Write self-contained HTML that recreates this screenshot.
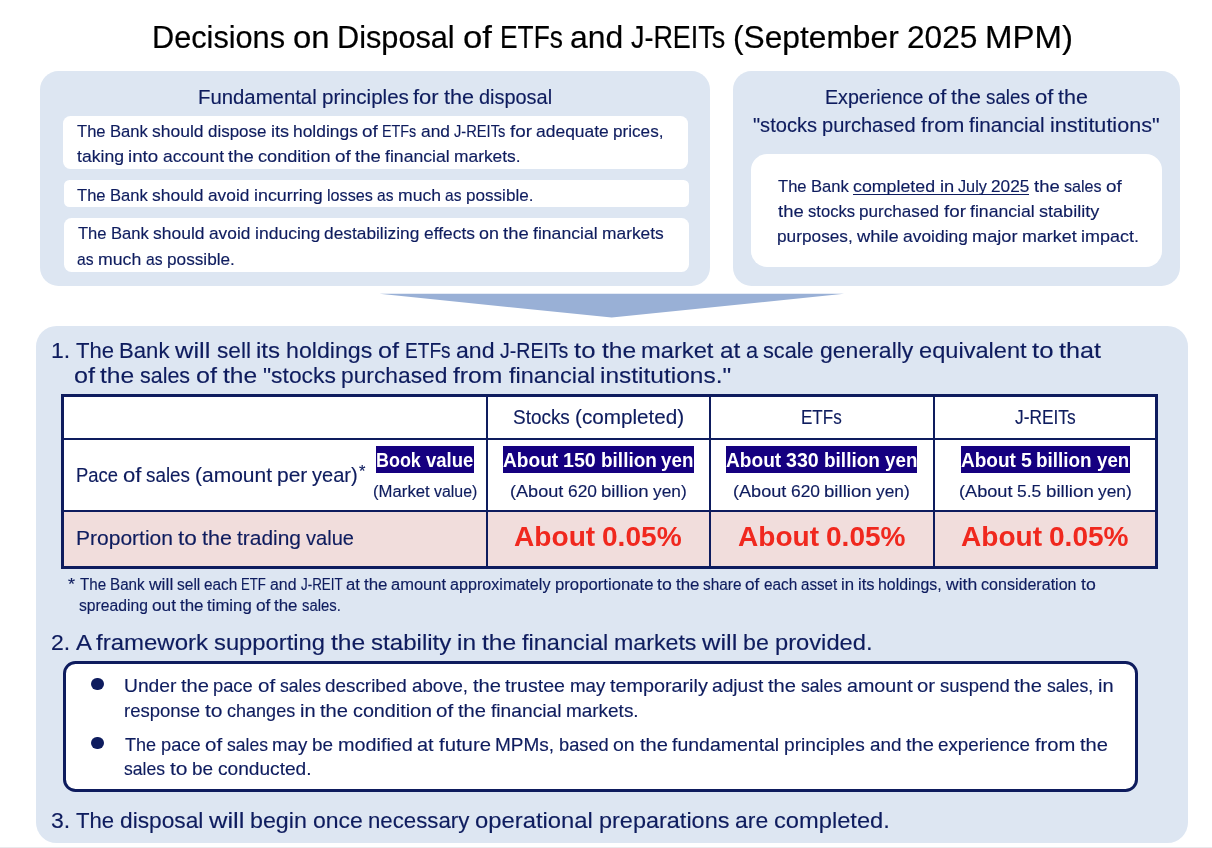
<!DOCTYPE html>
<html lang="en">
<head>
<meta charset="utf-8">
<title>Decisions on Disposal of ETFs and J-REITs (September 2025 MPM)</title>
<style>
html,body{margin:0;padding:0;background:#fff;}
body{width:1212px;height:848px;position:relative;overflow:hidden;font-family:"Liberation Sans",sans-serif;color:#0e1c5e;}
h1,h2,h3,p,ul,li,section,header{margin:0;padding:0;font-weight:normal;list-style:none;}
.panel{position:absolute;background:#dde6f2;}
.wb{position:absolute;background:#fff;}
.t{position:absolute;left:0;white-space:nowrap;line-height:1;-webkit-text-stroke:0.15px currentColor;}
.t span{position:absolute;top:0;transform-origin:0 0;}
.b{font-weight:bold;-webkit-text-stroke:0;}
.w{color:#fff;}
.r{color:#f0281e;}
.hl{position:absolute;background:#150080;}
.ln{position:absolute;background:#0e1c5e;}
.dot{position:absolute;width:12.3px;height:12.3px;border-radius:50%;background:#0e1c5e;}
</style>
</head>
<body>
<h1 class="t" id="title" style="top:21.59px;font-size:31.2px;color:#000;-webkit-text-stroke:0.2px #000"><span style="left:152.0px;transform:scaleX(0.984)">Decisions</span> <span style="left:292.8px;transform:scaleX(1.054)">on</span> <span style="left:337.2px;transform:scaleX(0.984)">Disposal</span> <span style="left:462.8px;transform:scaleX(1.111)">of</span> <span style="left:499.5px;transform:scaleX(0.844)">ETFs</span> <span style="left:570.2px;transform:scaleX(1.021)">and</span> <span style="left:631.2px;transform:scaleX(0.863)">J-REITs</span> <span style="left:733.2px;transform:scaleX(1.017)">(September</span> <span style="left:906.9px;transform:scaleX(1.015)">2025</span> <span style="left:985.1px;transform:scaleX(1.057)">MPM)</span></h1>
<section>
<div class="panel" style="left:40px;top:71px;width:670px;height:214.8px;border-radius:18.5px"></div>
<h2 class="t" id="hl" style="top:88.15px;font-size:19.9px"><span style="left:197.8px;transform:scaleX(1.022)">Fundamental</span> <span style="left:321.5px;transform:scaleX(1.034)">principles</span> <span style="left:413.4px;transform:scaleX(1.107)">for</span> <span style="left:444.1px;transform:scaleX(1.088)">the</span> <span style="left:479.2px;transform:scaleX(1.001)">disposal</span></h2>
<div class="wb" style="left:63.2px;top:115.9px;width:625px;height:53.6px;border-radius:7.5px"></div>
<p class="t" id="l1" style="top:122.61px;font-size:17.0px"><span style="left:77.1px;transform:scaleX(0.976)">The</span> <span style="left:110.0px;transform:scaleX(0.979)">Bank</span> <span style="left:152.2px;transform:scaleX(1.030)">should</span> <span style="left:208.1px;transform:scaleX(0.998)">dispose</span> <span style="left:270.8px;transform:scaleX(1.064)">its</span> <span style="left:293.2px;transform:scaleX(1.024)">holdings</span> <span style="left:362.3px;transform:scaleX(1.112)">of</span> <span style="left:382.4px;transform:scaleX(0.844)">ETFs</span> <span style="left:420.9px;transform:scaleX(1.021)">and</span> <span style="left:454.2px;transform:scaleX(0.863)">J-REITs</span> <span style="left:509.8px;transform:scaleX(1.108)">for</span> <span style="left:536.1px;transform:scaleX(1.027)">adequate</span> <span style="left:613.2px;transform:scaleX(1.008)">prices,</span></p>
<p class="t" id="l2" style="top:147.61px;font-size:17.0px"><span style="left:77.0px;transform:scaleX(1.036)">taking</span> <span style="left:128.3px;transform:scaleX(1.104)">into</span> <span style="left:162.8px;transform:scaleX(1.024)">account</span> <span style="left:228.1px;transform:scaleX(1.087)">the</span> <span style="left:258.0px;transform:scaleX(1.066)">condition</span> <span style="left:334.9px;transform:scaleX(1.111)">of</span> <span style="left:354.9px;transform:scaleX(1.087)">the</span> <span style="left:384.9px;transform:scaleX(1.038)">financial</span> <span style="left:453.9px;transform:scaleX(1.022)">markets.</span></p>
<div class="wb" style="left:63.5px;top:180.2px;width:625.5px;height:26.8px;border-radius:5.5px"></div>
<p class="t" id="l3" style="top:186.61px;font-size:17.0px"><span style="left:77.1px;transform:scaleX(0.976)">The</span> <span style="left:110.0px;transform:scaleX(0.978)">Bank</span> <span style="left:152.1px;transform:scaleX(1.029)">should</span> <span style="left:208.0px;transform:scaleX(1.018)">avoid</span> <span style="left:253.6px;transform:scaleX(1.052)">incurring</span> <span style="left:326.5px;transform:scaleX(0.953)">losses</span> <span style="left:376.7px;transform:scaleX(0.916)">as</span> <span style="left:397.5px;transform:scaleX(1.034)">much</span> <span style="left:444.7px;transform:scaleX(0.916)">as</span> <span style="left:465.5px;transform:scaleX(1.006)">possible.</span></p>
<div class="wb" style="left:63.7px;top:217.9px;width:625.4px;height:54px;border-radius:7.5px"></div>
<p class="t" id="l4" style="top:224.61px;font-size:17.0px"><span style="left:78.0px;transform:scaleX(0.975)">The</span> <span style="left:110.8px;transform:scaleX(0.978)">Bank</span> <span style="left:153.0px;transform:scaleX(1.028)">should</span> <span style="left:208.8px;transform:scaleX(1.018)">avoid</span> <span style="left:254.5px;transform:scaleX(1.032)">inducing</span> <span style="left:324.1px;transform:scaleX(1.019)">destabilizing</span> <span style="left:423.7px;transform:scaleX(1.024)">effects</span> <span style="left:478.9px;transform:scaleX(1.053)">on</span> <span style="left:503.1px;transform:scaleX(1.087)">the</span> <span style="left:533.1px;transform:scaleX(1.037)">financial</span> <span style="left:602.1px;transform:scaleX(1.022)">markets</span></p>
<p class="t" id="l5" style="top:250.61px;font-size:17.0px"><span style="left:77.4px;transform:scaleX(0.922)">as</span> <span style="left:98.3px;transform:scaleX(1.040)">much</span> <span style="left:145.8px;transform:scaleX(0.922)">as</span> <span style="left:166.7px;transform:scaleX(1.012)">possible.</span></p>
</section>
<section>
<div class="panel" style="left:732.8px;top:71px;width:447.3px;height:214.8px;border-radius:18.5px"></div>
<h2 class="t" id="hr1" style="top:88.15px;font-size:19.9px"><span style="left:824.6px;transform:scaleX(0.988)">Experience</span> <span style="left:927.9px;transform:scaleX(1.104)">of</span> <span style="left:951.2px;transform:scaleX(1.081)">the</span> <span style="left:986.1px;transform:scaleX(0.943)">sales</span> <span style="left:1034.9px;transform:scaleX(1.104)">of</span> <span style="left:1058.2px;transform:scaleX(1.081)">the</span></h2>
<h2 class="t" id="hr2" style="top:116.15px;font-size:19.9px"><span style="left:753.0px;transform:scaleX(1.009)">"stocks</span> <span style="left:822.0px;transform:scaleX(1.007)">purchased</span> <span style="left:920.5px;transform:scaleX(1.092)">from</span> <span style="left:969.0px;transform:scaleX(1.037)">financial</span> <span style="left:1049.7px;transform:scaleX(1.085)">institutions"</span></h2>
<div class="wb" style="left:751px;top:154px;width:411.2px;height:112.6px;border-radius:16px"></div>
<p class="t" id="r1" style="top:177.61px;font-size:17.0px"><span style="left:778.1px;transform:scaleX(0.976)">The</span> <span style="left:811.0px;transform:scaleX(0.978)">Bank</span> <span style="left:853.1px;transform:scaleX(1.046)">completed</span> <span style="left:939.5px;transform:scaleX(1.078)">in</span> <span style="left:958.0px;transform:scaleX(0.955)">July</span> <span style="left:991.2px;transform:scaleX(1.014)">2025</span> <span style="left:1033.8px;transform:scaleX(1.087)">the</span> <span style="left:1063.8px;transform:scaleX(0.948)">sales</span> <span style="left:1105.7px;transform:scaleX(1.111)">of</span></p>
<p class="t" id="r2" style="top:202.61px;font-size:17.0px"><span style="left:778.0px;transform:scaleX(1.087)">the</span> <span style="left:808.0px;transform:scaleX(0.978)">stocks</span> <span style="left:859.4px;transform:scaleX(1.007)">purchased</span> <span style="left:943.7px;transform:scaleX(1.106)">for</span> <span style="left:969.9px;transform:scaleX(1.038)">financial</span> <span style="left:1038.9px;transform:scaleX(1.063)">stability</span></p>
<p class="t" id="r3" style="top:227.61px;font-size:17.0px"><span style="left:777.0px;transform:scaleX(1.015)">purposes,</span> <span style="left:857.1px;transform:scaleX(1.079)">while</span> <span style="left:903.2px;transform:scaleX(1.025)">avoiding</span> <span style="left:972.4px;transform:scaleX(1.071)">major</span> <span style="left:1022.3px;transform:scaleX(1.053)">market</span> <span style="left:1081.3px;transform:scaleX(1.057)">impact.</span></p>
<div class="ln" style="left:853.1px;top:193.6px;width:176.4px;height:1.4px"></div>
</section>
<svg style="position:absolute;left:0;top:0" width="1212" height="848" viewBox="0 0 1212 848"><polygon points="379.5,293.7 844,293.7 611.7,317.6" fill="#99b0d6"/></svg>
<section>
<div class="panel" style="left:36px;top:325.8px;width:1152px;height:517px;border-radius:20.5px"></div>
<h3 class="t" id="s1a" style="top:338.78px;font-size:22.7px"><span style="left:50.6px;transform:scaleX(1.012)">1.</span> <span style="left:75.5px;transform:scaleX(0.974)">The</span> <span style="left:119.2px;transform:scaleX(0.976)">Bank</span> <span style="left:175.4px;transform:scaleX(1.123)">will</span> <span style="left:216.5px;transform:scaleX(0.998)">sell</span> <span style="left:256.2px;transform:scaleX(1.061)">its</span> <span style="left:286.0px;transform:scaleX(1.021)">holdings</span> <span style="left:378.0px;transform:scaleX(1.110)">of</span> <span style="left:404.7px;transform:scaleX(0.842)">ETFs</span> <span style="left:456.0px;transform:scaleX(1.019)">and</span> <span style="left:500.2px;transform:scaleX(0.861)">J-REITs</span> <span style="left:574.3px;transform:scaleX(1.135)">to</span> <span style="left:601.5px;transform:scaleX(1.085)">the</span> <span style="left:641.4px;transform:scaleX(1.045)">market</span> <span style="left:719.6px;transform:scaleX(1.072)">at</span> <span style="left:745.6px;transform:scaleX(0.957)">a</span> <span style="left:763.4px;transform:scaleX(0.957)">scale</span> <span style="left:819.8px;transform:scaleX(1.014)">generally</span> <span style="left:918.8px;transform:scaleX(1.041)">equivalent</span> <span style="left:1032.2px;transform:scaleX(1.136)">to</span> <span style="left:1059.4px;transform:scaleX(1.109)">that</span></h3>
<h3 class="t" id="s1b" style="top:363.78px;font-size:22.7px"><span style="left:73.8px;transform:scaleX(1.109)">of</span> <span style="left:100.4px;transform:scaleX(1.085)">the</span> <span style="left:140.3px;transform:scaleX(0.946)">sales</span> <span style="left:196.1px;transform:scaleX(1.108)">of</span> <span style="left:222.8px;transform:scaleX(1.084)">the</span> <span style="left:262.7px;transform:scaleX(1.007)">"stocks</span> <span style="left:341.3px;transform:scaleX(1.005)">purchased</span> <span style="left:453.4px;transform:scaleX(1.090)">from</span> <span style="left:508.6px;transform:scaleX(1.035)">financial</span> <span style="left:600.4px;transform:scaleX(1.079)">institutions."</span></h3>
<div class="wb" style="left:62.5px;top:395.5px;width:1095px;height:172px"></div>
<div style="position:absolute;left:63px;top:510.5px;width:1094px;height:57px;background:#f1dddc"></div>
<div class="ln" style="left:486.0px;top:396px;width:2px;height:171px"></div>
<div class="ln" style="left:709.4px;top:396px;width:2px;height:171px"></div>
<div class="ln" style="left:933.0px;top:396px;width:2px;height:171px"></div>
<div class="ln" style="left:63px;top:437.8px;width:1094px;height:1.9px"></div>
<div class="ln" style="left:63px;top:509.8px;width:1094px;height:1.9px"></div>
<div style="position:absolute;left:60.7px;top:394px;width:1091.1px;height:168.7px;border:3.6px solid #0e1c5e"></div>
<div class="t" id="th1" style="top:408.15px;font-size:19.9px"><span style="left:513.3px;transform:scaleX(0.952)">Stocks</span> <span style="left:575.1px;transform:scaleX(1.040)">(completed)</span></div>
<div class="t" id="th2" style="top:408.15px;font-size:19.9px"><span style="left:801.4px;transform:scaleX(0.856)">ETFs</span></div>
<div class="t" id="th3" style="top:408.15px;font-size:19.9px"><span style="left:1014.9px;transform:scaleX(0.871)">J-REITs</span></div>
<div class="t" id="pace" style="top:466.15px;font-size:19.9px"><span style="left:75.6px;transform:scaleX(0.924)">Pace</span> <span style="left:122.5px;transform:scaleX(1.110)">of</span> <span style="left:145.9px;transform:scaleX(0.947)">sales</span> <span style="left:194.9px;transform:scaleX(1.056)">(amount</span> <span style="left:277.0px;transform:scaleX(1.055)">per</span> <span style="left:312.3px;transform:scaleX(1.009)">year)</span></div>
<div class="t" id="ast" style="top:463.76px;font-size:16px"><span style="left:359.3px;transform:scaleX(1.034)">*</span></div>
<div class="hl" style="left:375.8px;top:446.3px;width:98.2px;height:26.7px"></div>
<div class="t b w" id="bv" style="top:450.66px;font-size:19.3px"><span style="left:376.4px;transform:scaleX(0.930)">Book</span> <span style="left:426.0px;transform:scaleX(0.961)">value</span></div>
<div class="t" id="mv" style="top:483.63px;font-size:15.8px"><span style="left:372.9px;transform:scaleX(1.059)">(Market</span> <span style="left:433.5px;transform:scaleX(1.007)">value)</span></div>
<div class="hl" style="left:502.7px;top:446.3px;width:191.3px;height:26.7px"></div>
<div class="t b w" id="a1" style="top:450.66px;font-size:19.3px"><span style="left:502.8px;transform:scaleX(0.991)">About</span> <span style="left:562.9px;transform:scaleX(1.017)">150</span> <span style="left:600.5px;transform:scaleX(0.984)">billion</span> <span style="left:661.2px;transform:scaleX(0.974)">yen</span></div>
<div class="t" id="m1" style="top:483.44px;font-size:17.2px"><span style="left:510.1px;transform:scaleX(1.053)">(About</span> <span style="left:567.7px;transform:scaleX(1.011)">620</span> <span style="left:601.0px;transform:scaleX(1.083)">billion</span> <span style="left:652.9px;transform:scaleX(1.008)">yen)</span></div>
<div class="hl" style="left:726px;top:446.3px;width:191.3px;height:26.7px"></div>
<div class="t b w" id="a2" style="top:450.66px;font-size:19.3px"><span style="left:726.1px;transform:scaleX(0.991)">About</span> <span style="left:786.2px;transform:scaleX(1.017)">330</span> <span style="left:823.8px;transform:scaleX(0.984)">billion</span> <span style="left:884.5px;transform:scaleX(0.974)">yen</span></div>
<div class="t" id="m2" style="top:483.44px;font-size:17.2px"><span style="left:733.4px;transform:scaleX(1.054)">(About</span> <span style="left:791.1px;transform:scaleX(1.013)">620</span> <span style="left:824.4px;transform:scaleX(1.084)">billion</span> <span style="left:876.4px;transform:scaleX(1.009)">yen)</span></div>
<div class="hl" style="left:960.7px;top:446.3px;width:169px;height:26.7px"></div>
<div class="t b w" id="a3" style="top:450.66px;font-size:19.3px"><span style="left:960.8px;transform:scaleX(0.987)">About</span> <span style="left:1020.6px;transform:scaleX(1.013)">5</span> <span style="left:1036.3px;transform:scaleX(0.980)">billion</span> <span style="left:1096.8px;transform:scaleX(0.969)">yen</span></div>
<div class="t" id="m3" style="top:483.44px;font-size:17.2px"><span style="left:959.3px;transform:scaleX(1.057)">(About</span> <span style="left:1017.1px;transform:scaleX(1.015)">5.5</span> <span style="left:1045.7px;transform:scaleX(1.087)">billion</span> <span style="left:1097.8px;transform:scaleX(1.012)">yen)</span></div>
<div class="t" id="p0" style="top:529.15px;font-size:19.9px"><span style="left:75.6px;transform:scaleX(1.057)">Proportion</span> <span style="left:177.7px;transform:scaleX(1.136)">to</span> <span style="left:201.5px;transform:scaleX(1.085)">the</span> <span style="left:236.5px;transform:scaleX(1.052)">trading</span> <span style="left:305.5px;transform:scaleX(1.008)">value</span></div>
<div class="t b r" id="p1" style="top:521.96px;font-size:28.4px"><span style="left:514.0px;transform:scaleX(0.990)">About</span> <span style="left:602.3px;transform:scaleX(0.989)">0.05%</span></div>
<div class="t b r" id="p2" style="top:521.96px;font-size:28.4px"><span style="left:737.7px;transform:scaleX(0.988)">About</span> <span style="left:825.9px;transform:scaleX(0.988)">0.05%</span></div>
<div class="t b r" id="p3" style="top:521.96px;font-size:28.4px"><span style="left:961.0px;transform:scaleX(0.988)">About</span> <span style="left:1049.2px;transform:scaleX(0.988)">0.05%</span></div>
<p class="t" id="f1" style="top:576.79px;font-size:15.6px"><span style="left:68.4px;transform:scaleX(1.150)">*</span> <span style="left:80.0px;transform:scaleX(0.972)">The</span> <span style="left:110.1px;transform:scaleX(0.975)">Bank</span> <span style="left:148.7px;transform:scaleX(1.121)">will</span> <span style="left:176.9px;transform:scaleX(0.996)">sell</span> <span style="left:204.1px;transform:scaleX(0.985)">each</span> <span style="left:241.3px;transform:scaleX(0.843)">ETF</span> <span style="left:270.1px;transform:scaleX(1.017)">and</span> <span style="left:300.5px;transform:scaleX(0.860)">J-REIT</span> <span style="left:345.8px;transform:scaleX(1.070)">at</span> <span style="left:363.7px;transform:scaleX(1.083)">the</span> <span style="left:391.1px;transform:scaleX(1.059)">amount</span> <span style="left:450.1px;transform:scaleX(1.035)">approximately</span> <span style="left:554.5px;transform:scaleX(1.071)">proportionate</span> <span style="left:656.8px;transform:scaleX(1.134)">to</span> <span style="left:675.5px;transform:scaleX(1.083)">the</span> <span style="left:702.9px;transform:scaleX(0.989)">share</span> <span style="left:745.4px;transform:scaleX(1.107)">of</span> <span style="left:763.7px;transform:scaleX(0.985)">each</span> <span style="left:801.0px;transform:scaleX(0.970)">asset</span> <span style="left:841.0px;transform:scaleX(1.076)">in</span> <span style="left:858.0px;transform:scaleX(1.060)">its</span> <span style="left:878.4px;transform:scaleX(1.019)">holdings,</span> <span style="left:945.9px;transform:scaleX(1.127)">with</span> <span style="left:981.1px;transform:scaleX(1.030)">consideration</span> <span style="left:1080.5px;transform:scaleX(1.133)">to</span></p>
<p class="t" id="f2" style="top:597.79px;font-size:15.6px"><span style="left:79.0px;transform:scaleX(1.006)">spreading</span> <span style="left:151.9px;transform:scaleX(1.109)">out</span> <span style="left:179.8px;transform:scaleX(1.085)">the</span> <span style="left:207.3px;transform:scaleX(1.075)">timing</span> <span style="left:255.9px;transform:scaleX(1.108)">of</span> <span style="left:274.2px;transform:scaleX(1.084)">the</span> <span style="left:301.7px;transform:scaleX(0.953)">sales.</span></p>
<h3 class="t" id="s2" style="top:630.78px;font-size:22.7px"><span style="left:51.1px;transform:scaleX(1.013)">2.</span> <span style="left:76.0px;transform:scaleX(1.052)">A</span> <span style="left:96.3px;transform:scaleX(1.058)">framework</span> <span style="left:214.1px;transform:scaleX(1.048)">supporting</span> <span style="left:330.8px;transform:scaleX(1.086)">the</span> <span style="left:370.8px;transform:scaleX(1.062)">stability</span> <span style="left:456.8px;transform:scaleX(1.079)">in</span> <span style="left:481.6px;transform:scaleX(1.087)">the</span> <span style="left:521.6px;transform:scaleX(1.037)">financial</span> <span style="left:613.6px;transform:scaleX(1.022)">markets</span> <span style="left:701.8px;transform:scaleX(1.124)">will</span> <span style="left:742.9px;transform:scaleX(1.023)">be</span> <span style="left:774.5px;transform:scaleX(1.045)">provided.</span></h3>
<div style="position:absolute;left:63px;top:660.8px;width:1069.3px;height:125.5px;border:3.2px solid #0e1c5e;border-radius:12.5px;background:#fff"></div>
<ul>
<li><div class="dot" style="left:91.3px;top:677.9px"></div>
<div class="t" id="b1" style="top:677.30px;font-size:18.55px"><span style="left:123.7px;transform:scaleX(1.038)">Under</span> <span style="left:180.7px;transform:scaleX(1.087)">the</span> <span style="left:213.4px;transform:scaleX(0.988)">pace</span> <span style="left:257.8px;transform:scaleX(1.111)">of</span> <span style="left:279.6px;transform:scaleX(0.948)">sales</span> <span style="left:325.3px;transform:scaleX(1.018)">described</span> <span style="left:411.8px;transform:scaleX(1.007)">above,</span> <span style="left:472.5px;transform:scaleX(1.087)">the</span> <span style="left:505.2px;transform:scaleX(1.059)">trustee</span> <span style="left:569.8px;transform:scaleX(1.009)">may</span> <span style="left:609.8px;transform:scaleX(1.067)">temporarily</span> <span style="left:712.3px;transform:scaleX(1.036)">adjust</span> <span style="left:768.2px;transform:scaleX(1.087)">the</span> <span style="left:800.9px;transform:scaleX(0.948)">sales</span> <span style="left:846.6px;transform:scaleX(1.062)">amount</span> <span style="left:916.9px;transform:scaleX(1.097)">or</span> <span style="left:939.7px;transform:scaleX(0.996)">suspend</span> <span style="left:1014.1px;transform:scaleX(1.087)">the</span> <span style="left:1046.8px;transform:scaleX(0.953)">sales,</span> <span style="left:1097.6px;transform:scaleX(1.080)">in</span></div>
<div class="t" id="b2" style="top:702.30px;font-size:18.55px"><span style="left:123.8px;transform:scaleX(0.999)">response</span> <span style="left:204.6px;transform:scaleX(1.137)">to</span> <span style="left:226.8px;transform:scaleX(0.973)">changes</span> <span style="left:299.7px;transform:scaleX(1.079)">in</span> <span style="left:319.9px;transform:scaleX(1.087)">the</span> <span style="left:352.6px;transform:scaleX(1.066)">condition</span> <span style="left:436.3px;transform:scaleX(1.111)">of</span> <span style="left:458.1px;transform:scaleX(1.087)">the</span> <span style="left:490.8px;transform:scaleX(1.037)">financial</span> <span style="left:566.0px;transform:scaleX(1.022)">markets.</span></div>
</li>
<li><div class="dot" style="left:91.3px;top:737px"></div>
<div class="t" id="b3" style="top:736.30px;font-size:18.55px"><span style="left:124.8px;transform:scaleX(0.974)">The</span> <span style="left:160.5px;transform:scaleX(0.986)">pace</span> <span style="left:204.8px;transform:scaleX(1.109)">of</span> <span style="left:226.6px;transform:scaleX(0.946)">sales</span> <span style="left:272.2px;transform:scaleX(1.007)">may</span> <span style="left:312.1px;transform:scaleX(1.021)">be</span> <span style="left:337.8px;transform:scaleX(1.068)">modified</span> <span style="left:417.3px;transform:scaleX(1.072)">at</span> <span style="left:438.5px;transform:scaleX(1.096)">future</span> <span style="left:495.1px;transform:scaleX(1.024)">MPMs,</span> <span style="left:558.8px;transform:scaleX(0.986)">based</span> <span style="left:613.3px;transform:scaleX(1.051)">on</span> <span style="left:639.6px;transform:scaleX(1.085)">the</span> <span style="left:672.2px;transform:scaleX(1.051)">fundamental</span> <span style="left:784.0px;transform:scaleX(1.032)">principles</span> <span style="left:869.5px;transform:scaleX(1.018)">and</span> <span style="left:905.6px;transform:scaleX(1.085)">the</span> <span style="left:938.2px;transform:scaleX(1.013)">experience</span> <span style="left:1034.7px;transform:scaleX(1.091)">from</span> <span style="left:1079.8px;transform:scaleX(1.085)">the</span></div>
<div class="t" id="b4" style="top:760.30px;font-size:18.55px"><span style="left:124.2px;transform:scaleX(0.947)">sales</span> <span style="left:169.8px;transform:scaleX(1.136)">to</span> <span style="left:192.0px;transform:scaleX(1.021)">be</span> <span style="left:217.8px;transform:scaleX(1.032)">conducted.</span></div>
</li>
</ul>
<h3 class="t" id="s3" style="top:808.78px;font-size:22.7px"><span style="left:50.9px;transform:scaleX(1.014)">3.</span> <span style="left:75.8px;transform:scaleX(0.976)">The</span> <span style="left:119.7px;transform:scaleX(1.001)">disposal</span> <span style="left:208.8px;transform:scaleX(1.125)">will</span> <span style="left:249.9px;transform:scaleX(1.024)">begin</span> <span style="left:312.5px;transform:scaleX(1.014)">once</span> <span style="left:368.1px;transform:scaleX(0.980)">necessary</span> <span style="left:475.1px;transform:scaleX(1.050)">operational</span> <span style="left:598.8px;transform:scaleX(1.034)">preparations</span> <span style="left:734.9px;transform:scaleX(1.011)">are</span> <span style="left:773.8px;transform:scaleX(1.044)">completed.</span></h3>
</section>
<div style="position:absolute;left:0;top:846.6px;width:1212px;height:1.4px;background:#e9e9ec"></div>
</body>
</html>
